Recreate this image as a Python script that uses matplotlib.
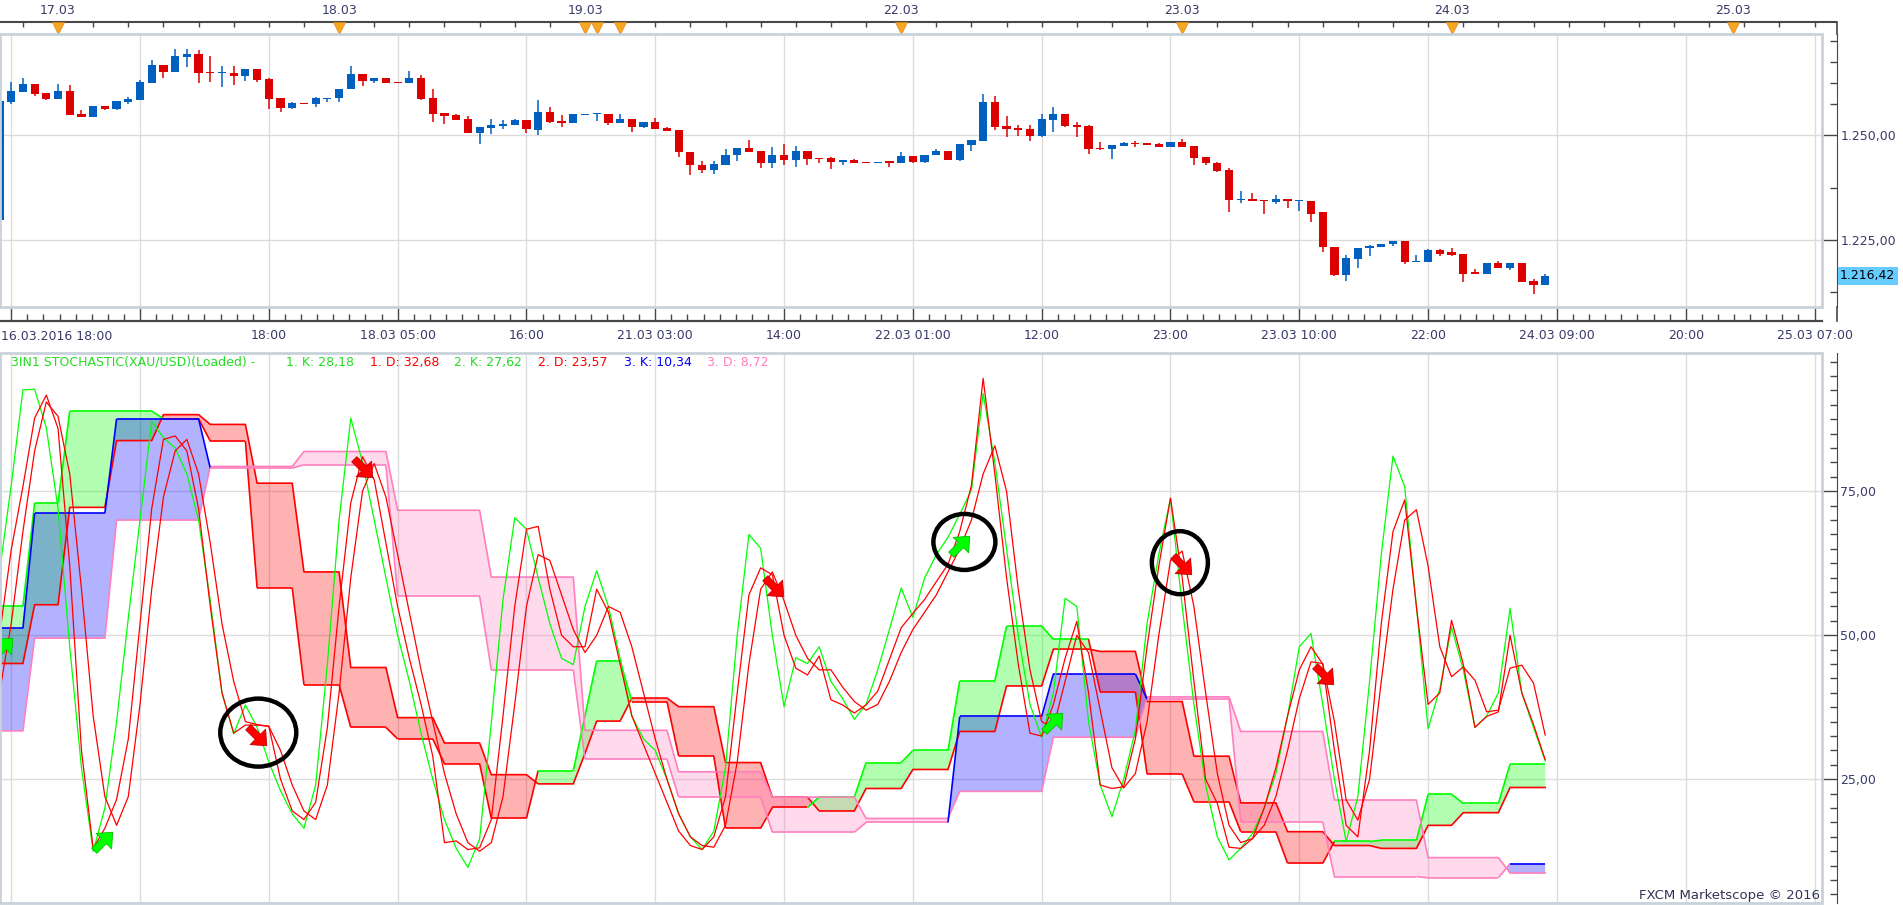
import numpy as np
import matplotlib
matplotlib.use("Agg")
import matplotlib.pyplot as plt
from matplotlib.collections import LineCollection
from matplotlib.patches import Ellipse, Rectangle
from matplotlib.lines import Line2D
from matplotlib.path import Path
from matplotlib.ticker import FixedLocator, FuncFormatter

# ---------------- data: hourly XAU/USD candles (bar index 0..132) ----------------
opens = [
    1229.8, 1258.0, 1260.4, 1262.2, 1260.0, 1258.7, 1260.6, 1255.0, 1254.4, 1257.0,
    1256.3, 1258.0, 1258.4, 1262.5, 1266.7, 1265.2, 1268.7, 1269.4, 1265.1, 1264.8,
    1264.9, 1264.2, 1265.8, 1263.4, 1258.9, 1256.6, 1257.7, 1257.5, 1258.7, 1259.0,
    1261.0, 1264.6, 1263.0, 1263.8, 1262.8, 1262.5, 1263.8, 1258.9, 1255.3, 1254.8,
    1253.9, 1250.6, 1251.8, 1252.3, 1252.5, 1253.7, 1251.3, 1255.6, 1253.4, 1253.0,
    1254.9, 1255.0, 1255.2, 1253.0, 1253.9, 1252.1, 1253.2, 1251.7, 1251.3, 1246.1,
    1242.9, 1241.7, 1243.0, 1245.2, 1247.0, 1246.3, 1243.5, 1245.3, 1244.1, 1246.3,
    1244.7, 1244.7, 1243.7, 1244.1, 1243.6, 1243.3, 1243.6, 1243.3, 1245.1, 1243.7,
    1245.2, 1246.3, 1244.1, 1247.7, 1248.7, 1257.9, 1252.2, 1251.8, 1251.5, 1249.8,
    1253.7, 1255.1, 1252.5, 1252.2, 1247.0, 1246.7, 1247.5, 1248.1, 1248.1, 1247.9,
    1247.2, 1248.3, 1247.5, 1244.8, 1243.4, 1241.7, 1234.6, 1234.8, 1234.6, 1234.0,
    1234.8, 1234.2, 1234.4, 1231.6, 1223.4, 1216.7, 1220.4, 1223.0, 1223.3, 1224.0,
    1224.8, 1219.7, 1219.7, 1222.5, 1222.1, 1221.7, 1217.3, 1217.0, 1219.4, 1218.4,
    1219.4, 1215.1, 1214.2]
highs = [
    1258.2, 1262.8, 1263.7, 1262.2, 1260.0, 1262.2, 1262.0, 1256.0, 1257.0, 1257.0,
    1258.2, 1259.2, 1263.2, 1267.9, 1266.7, 1270.5, 1270.5, 1270.3, 1268.9, 1266.5,
    1266.5, 1265.8, 1265.8, 1263.7, 1258.9, 1258.0, 1257.7, 1259.2, 1259.0, 1261.0,
    1266.5, 1264.6, 1263.8, 1263.8, 1262.8, 1265.3, 1264.4, 1261.0, 1255.3, 1255.0,
    1254.6, 1252.0, 1254.0, 1253.7, 1254.0, 1253.7, 1258.4, 1256.8, 1254.8, 1255.1,
    1255.2, 1255.1, 1255.2, 1255.1, 1253.9, 1253.2, 1254.1, 1252.1, 1251.3, 1246.1,
    1243.9, 1243.8, 1246.7, 1247.0, 1248.9, 1246.3, 1247.1, 1247.9, 1247.5, 1246.3,
    1244.7, 1244.9, 1244.1, 1244.3, 1243.6, 1243.7, 1243.6, 1246.1, 1245.1, 1245.3,
    1246.8, 1246.3, 1247.9, 1248.9, 1259.8, 1259.4, 1254.6, 1252.5, 1252.5, 1255.2,
    1256.7, 1255.1, 1253.3, 1252.4, 1248.4, 1247.6, 1248.4, 1248.6, 1248.1, 1248.1,
    1248.3, 1249.1, 1247.5, 1244.8, 1243.7, 1242.1, 1236.6, 1236.3, 1234.6, 1235.8,
    1234.8, 1234.4, 1234.4, 1231.6, 1223.4, 1221.3, 1223.1, 1223.9, 1224.0, 1224.8,
    1224.8, 1221.4, 1222.9, 1222.9, 1223.1, 1221.7, 1218.1, 1219.4, 1220.1, 1219.4,
    1219.6, 1215.8, 1217.0]
lows = [
    1229.8, 1257.6, 1260.4, 1259.4, 1258.4, 1258.7, 1254.8, 1254.4, 1254.4, 1256.0,
    1256.0, 1257.6, 1258.4, 1262.5, 1263.7, 1265.2, 1266.3, 1262.4, 1262.8, 1261.6,
    1262.0, 1263.0, 1262.8, 1256.3, 1255.6, 1256.3, 1257.5, 1256.7, 1257.9, 1258.0,
    1261.0, 1261.8, 1262.4, 1262.4, 1262.5, 1262.5, 1258.4, 1253.3, 1252.7, 1253.7,
    1250.5, 1247.9, 1250.2, 1251.4, 1252.5, 1250.6, 1250.1, 1253.0, 1252.1, 1253.0,
    1254.9, 1253.5, 1252.5, 1253.0, 1250.9, 1251.8, 1251.5, 1251.1, 1244.9, 1240.6,
    1241.0, 1240.8, 1243.0, 1243.9, 1246.0, 1242.1, 1242.1, 1243.0, 1242.5, 1243.0,
    1243.3, 1242.0, 1243.0, 1243.5, 1243.3, 1243.3, 1242.5, 1243.3, 1243.3, 1243.3,
    1245.2, 1244.1, 1243.9, 1246.3, 1248.7, 1251.3, 1249.5, 1249.9, 1248.7, 1249.7,
    1250.9, 1252.1, 1249.7, 1245.6, 1246.5, 1244.4, 1247.5, 1247.1, 1247.7, 1247.2,
    1247.2, 1247.1, 1242.8, 1243.0, 1241.3, 1231.7, 1233.9, 1234.4, 1231.3, 1233.7,
    1232.7, 1232.0, 1229.4, 1222.1, 1216.3, 1215.3, 1218.2, 1221.1, 1223.3, 1223.5,
    1219.3, 1219.7, 1219.7, 1221.1, 1221.1, 1214.9, 1217.0, 1217.0, 1218.4, 1217.8,
    1214.9, 1212.2, 1214.2]
closes = [
    1258.2, 1260.6, 1262.2, 1259.8, 1258.7, 1260.6, 1254.8, 1254.4, 1257.0, 1256.3,
    1258.2, 1258.7, 1262.7, 1266.7, 1265.2, 1268.9, 1269.4, 1264.9, 1264.8, 1264.9,
    1264.2, 1265.8, 1263.2, 1258.7, 1256.6, 1257.7, 1257.5, 1258.9, 1259.0, 1261.0,
    1264.6, 1263.0, 1263.8, 1262.5, 1262.5, 1263.8, 1258.7, 1255.2, 1254.7, 1253.7,
    1250.6, 1252.0, 1252.5, 1252.7, 1253.7, 1251.4, 1255.6, 1253.2, 1253.0, 1255.1,
    1255.2, 1255.1, 1252.9, 1253.9, 1252.1, 1253.2, 1251.5, 1251.1, 1245.9, 1242.8,
    1241.7, 1243.2, 1245.3, 1247.0, 1246.0, 1243.5, 1245.3, 1244.1, 1246.3, 1244.4,
    1244.4, 1243.7, 1244.1, 1243.5, 1243.3, 1243.7, 1243.5, 1245.1, 1243.6, 1245.3,
    1246.3, 1244.1, 1247.9, 1248.9, 1257.9, 1252.1, 1251.6, 1251.3, 1249.8, 1253.9,
    1255.1, 1252.2, 1252.1, 1246.8, 1246.7, 1247.6, 1248.1, 1247.9, 1247.7, 1247.2,
    1248.3, 1247.1, 1244.7, 1243.3, 1241.5, 1234.6, 1234.8, 1234.4, 1234.2, 1234.8,
    1234.2, 1234.4, 1231.3, 1223.3, 1216.7, 1220.6, 1223.1, 1223.5, 1224.0, 1224.8,
    1219.7, 1219.8, 1222.5, 1221.7, 1221.5, 1217.0, 1217.0, 1219.4, 1218.4, 1219.4,
    1214.9, 1214.2, 1216.42]

# time axis
time_ticks = [1, 12, 23, 34, 45, 56, 67, 78, 89, 100, 111, 122, 133, 144, 155]
time_labels = ["16.03.2016 18:00", "", "18:00", "18.03 05:00", "16:00", "21.03 03:00",
               "14:00", "22.03 01:00", "12:00", "23:00", "23.03 10:00", "22:00",
               "24.03 09:00", "20:00", "25.03 07:00"]
day_bars = [5, 29, 50, 77, 101, 124, 148]
day_labels = ["17.03", "18.03", "19.03", "22.03", "23.03", "24.03", "25.03"]
day_marks = [5, 29, 50, 51, 53, 77, 101, 124, 148]
price_minor = [1212.5, 1237.5, 1257.5, 1262.5, 1267.5, 1272.5]

# 1. stochastic (hourly) lines
k1 = [61, 76, 92.6, 92.7, 86, 72, 48, 27, 12.5, 20,
      35, 53, 70, 87.1, 84.3, 82.5, 78, 70, 56, 40,
      32.9, 37.9, 34, 28, 23, 19, 16.5, 24, 45, 70,
      87.7, 80, 70, 60, 50, 42, 33, 25, 18, 13,
      9.7, 14.6, 34.8, 56.2, 70.4, 68.4, 60, 52, 46, 44.9,
      55, 61.2, 55, 46, 36, 32, 30, 25, 19, 15,
      12.8, 16, 27, 50, 67.5, 65.1, 50, 37.6, 46.1, 45.1,
      48.0, 42, 39, 35.4, 38, 44, 51, 58.2, 53.1, 59.9,
      64, 67, 71, 75.2, 92, 80, 65, 50, 38, 32.3,
      40, 56.4, 55, 35, 24, 18.5, 25, 33.5, 52, 64,
      73.8, 55, 38, 24, 15, 11, 13, 15.6, 20, 26,
      36, 48, 50.3, 38, 25, 14.2, 22, 42, 64, 81.1,
      75.8, 55, 33.8, 40.7, 51.4, 44, 34, 36, 40, 54.7,
      40, 34, 28.18]
r1 = [50, 64.8, 75.8, 87.7, 91.7, 85.9, 62, 30, 13, 16.5,
      21.5, 32, 52, 72, 84, 84.6, 82, 72, 55, 40,
      33, 34.4, 34.4, 34.2, 25, 19.5, 18, 21, 34, 55,
      73, 81, 77, 66, 55, 46, 38, 29, 14, 14.3,
      12.8, 13.1, 18, 36, 55, 68.4, 68.9, 58, 50, 48,
      48, 58, 54, 45, 36, 31, 26, 21, 16, 13.5,
      12.8, 15, 22, 40, 57, 61.7, 60.5, 50, 44.3, 43.1,
      46.4, 38.8, 37.9, 36.5, 37.9, 40.3, 45.8, 51.3, 53.8, 56.2,
      59.3, 62.3, 68, 76, 94.6, 78, 60, 45, 33, 32.5,
      38, 46, 52.4, 40, 24, 23.4, 23.7, 32, 48, 62,
      73.8, 60, 42, 25, 20.8, 13.2, 13, 14.7, 20, 27,
      36, 44, 48, 45, 30, 17, 15, 30, 52, 68,
      73.5, 55, 38, 40, 52.6, 45, 34, 35.9, 36.7, 50,
      40, 34.5, 28.4]
d1 = [40, 52, 68, 82, 90.5, 88, 78, 58, 36, 22,
      17, 22, 38, 58, 74, 82, 84, 78, 66, 52,
      42, 35, 34.5, 34.2, 30, 24, 19.5, 18, 24, 40,
      60, 75, 79.8, 74, 64, 54, 44, 35, 26, 19,
      14, 12.5, 14, 22, 38, 55, 64, 63, 57, 51,
      47, 50, 55, 54, 48, 40, 32, 25, 19, 15,
      13.5, 13.2, 17, 28, 45, 58, 61, 56, 50, 46,
      44, 44, 41, 38.5, 37, 38, 42, 47, 51, 54,
      57, 61, 65, 70, 78, 82.9, 75, 58, 44, 35,
      34, 42, 50, 47, 37, 27, 23.5, 26, 35, 50,
      63, 64.6, 55, 40, 26, 17, 14, 14.7, 17, 22,
      30, 39, 45.4, 45.1, 35, 21.4, 17.9, 25, 42, 58,
      70, 71.8, 62, 48, 42.8, 44.5, 42.2, 36.7, 37.0, 44.3,
      44.8, 41.7, 32.68]

# 2. stochastic (4-hour steps): first bar of each step, K, D
b2_start = [0, 3, 6, 10, 14, 18, 22, 26, 30, 34, 38, 42, 46, 50, 51, 54, 58, 62, 66, 70,
            74, 78, 82, 86, 90, 94, 98, 102, 106, 110, 114, 118, 122, 125, 129]
b2_k = [55.0, 73.0, 88.9, 88.9, 87.6, 83.7, 58.2, 41.4, 34.0, 32.0, 27.7, 18.2, 26.5, 36.0,
        45.6, 38.5, 29.0, 16.5, 20.1, 21.9, 27.9, 30.0, 42.1, 51.6, 49.3, 40.2, 25.9, 21.1,
        15.9, 10.4, 14.2, 14.4, 22.4, 20.8, 27.62]
b2_d = [45.1, 55.3, 72.2, 83.8, 88.3, 86.6, 76.4, 61.0, 44.4, 35.7, 31.3, 25.8, 24.2, 29.5,
        35.1, 39.1, 37.6, 27.9, 21.9, 19.5, 23.4, 26.7, 33.3, 41.2, 47.6, 47.2, 38.5, 29.0,
        20.9, 15.9, 13.5, 13.0, 17.0, 19.2, 23.57]

# 3. stochastic (8-hour steps)
b3_start = [0, 3, 10, 18, 26, 34, 42, 50, 58, 66, 74, 82, 90, 98, 106, 114, 122, 129]
b3_k = [51.2, 71.2, 87.6, 79.0, 79.6, 56.8, 44.0, 28.5, 21.9, 15.8, 17.5, 35.9, 43.3, 38.9,
        17.6, 8.1, 7.9, 10.34]
b3_d = [33.4, 49.5, 70.0, 79.3, 81.9, 71.7, 60.1, 33.5, 26.3, 21.9, 18.2, 22.9, 32.3, 39.3,
        33.3, 21.4, 11.4, 8.72]

# signal arrows and hand-drawn circles
arrow_bars = [0.3, 8.8, 22.0, 31.0, 66.1, 82.0, 90.0, 101.0, 113.1]
arrow_vals = [48.0, 14.3, 32.5, 79.1, 58.4, 65.7, 35.0, 62.2, 43.1]
arrow_up = [True, True, False, False, False, True, True, False, False]
circle_bars = [22.1, 82.4, 100.8]
circle_vals = [33.1, 66.2, 62.6]

# ---------------- layout ----------------
plt.rcParams['font.family'] = ['DejaVu Sans']
W, H = 1903, 905
PX = 11.71          # pixels per bar
VPX = 5.76          # pixels per stochastic unit
TXT = '#3a3a6a'
AXC = '#474747'
GRID = '#dcdcdc'
FRAME = '#c9d1da'
GREEN, RED, BLUE, PINK = '#00ff00', '#ff0000', '#0000ff', '#ff7fbf'


def box(x0, y0, x1, y1):
    return [x0 / W, 1 - y1 / H, (x1 - x0) / W, (y1 - y0) / H]


def to_bar(px):
    return (px + 0.51) / PX


def pt(px):
    return px * 0.72


def price_fmt(v, pos=None):
    return f"{v:,.2f}".replace(",", " ").replace(".", ",").replace(" ", ".")


def stoch_fmt(v, pos=None):
    return f"{v:.2f}".replace(".", ",")


def steps(starts, vals, n):
    return np.repeat(np.array(vals, float), np.diff(starts + [n]))


def two_tone(ax, x, a, b, c_hi, c_lo, lw, z):
    pts = np.column_stack([x, a])
    segs = np.stack([pts[:-1], pts[1:]], axis=1)
    hi = (a[:-1] + a[1:]) >= (b[:-1] + b[1:])
    cols = [c_hi if h else c_lo for h in hi]
    ax.add_collection(LineCollection(segs, colors=cols, linewidths=lw, zorder=z))


def arrow_marker(angle_deg):
    # thick block arrow pointing east, rotated
    v = np.array([(-0.5, -0.14), (0.02, -0.14), (0.02, -0.42), (0.5, 0.0),
                  (0.02, 0.42), (0.02, 0.14), (-0.5, 0.14), (-0.5, -0.14)])
    a = np.deg2rad(angle_deg)
    rot = np.array([[np.cos(a), -np.sin(a)], [np.sin(a), np.cos(a)]])
    return Path(v @ rot.T, closed=True)


fig = plt.figure(figsize=(W / 100, H / 100), dpi=100)
fig.patch.set_facecolor('white')
ax0 = fig.add_axes(box(0, 0, 1837, 34))
ax1 = fig.add_axes(box(0, 34, 1822, 307))
ax2 = fig.add_axes(box(0, 353, 1822, 903))

n = len(closes)
x = np.arange(n)
o, h, l, c = (np.array(v) for v in (opens, highs, lows, closes))

# ---------------- top date strip ----------------
ax0.set_xlim(to_bar(0), to_bar(1837))
ax0.set_ylim(0, 1)
ax0.axis('off')
y_line = 12 / 34
ax0.axhline(y_line, color=AXC, lw=1.5)
ax0.vlines(np.arange(2, 157, 3), 7 / 34, y_line, color=AXC, lw=1)
ax0.plot(day_marks, [6 / 34] * len(day_marks), 'v', color='#f5a623', ms=8, mec='#e08a10', mew=0.5)
for b, lab in zip(day_bars, day_labels):
    ax0.text(b, 23.5 / 34, lab, ha='center', va='center', fontsize=9, color=TXT)
ax0.axvline(to_bar(1837), ymax=y_line, color=AXC, lw=1.2, clip_on=False)

# ---------------- price panel ----------------
ax1.set_xlim(to_bar(0), to_bar(1822))
ax1.set_ylim(1209.0, 1274.2)
up = c >= o
cols = np.where(up, '#0060c0', '#dd0000')
ax1.vlines(x, l, h, colors=cols, lw=1.1, zorder=3)
ax1.bar(x, np.maximum(np.abs(c - o), 0.3), bottom=np.minimum(o, c), width=0.7,
        color=cols, linewidth=0, zorder=4)

for s in ('top', 'left'):
    ax1.spines[s].set_visible(False)
ax1.spines['right'].set_position(('outward', pt(15)))
ax1.spines['right'].set_color(AXC)
ax1.spines['bottom'].set_position(('outward', pt(14)))
ax1.spines['bottom'].set_color(AXC)
ax1.spines['bottom'].set_linewidth(1.6)
ax1.add_patch(Rectangle((0, 0), 1, 1, transform=ax1.transAxes, fill=False, ec=FRAME,
                        lw=2, clip_on=False, zorder=6))
ax1.yaxis.tick_right()
ax1.yaxis.set_major_locator(FixedLocator([1225, 1250]))
ax1.yaxis.set_major_formatter(FuncFormatter(price_fmt))
ax1.yaxis.set_minor_locator(FixedLocator(price_minor))
ax1.tick_params(axis='y', which='major', direction='in', length=pt(15), width=1, color=AXC,
                pad=2.5, labelsize=9, labelcolor=TXT)
ax1.tick_params(axis='y', which='minor', direction='in', length=pt(7), width=1, color=AXC)
ax1.set_xticks(time_ticks)
ax1.set_xticklabels(time_labels)
ax1.xaxis.set_minor_locator(FixedLocator(np.arange(1, 156, 11 / 8)))
ax1.tick_params(axis='x', which='major', direction='in', length=pt(13), width=1, color=AXC,
                pad=5.5, labelsize=9, labelcolor=TXT)
ax1.tick_params(axis='x', which='minor', direction='in', length=pt(7), width=1, color=AXC)
ax1.grid(True, which='major', color=GRID, lw=1)
ax1.set_axisbelow(True)
fig.text(1 / W, 1 - 337 / H, time_labels[0], ha='left', va='center', fontsize=9, color=TXT)
ax1.get_xticklabels()[0].set_visible(False)
fig.add_artist(Line2D([1837 / W, 1837 / W], [1 - 307 / H, 1 - 321 / H], color=AXC, lw=1.2))

# last price tag
ax1.text(1840 / 1822, c[-1], price_fmt(c[-1]), transform=ax1.get_yaxis_transform(),
         ha='left', va='center', fontsize=9, color='black', clip_on=False,
         bbox=dict(boxstyle='square,pad=0.2', fc='#66ccff', ec='none'))

# ---------------- stochastic panel ----------------
ax2.set_xlim(to_bar(0), to_bar(1822))
ax2.set_ylim(3.52, 99.0)

K2 = steps(b2_start, b2_k, n)
D2 = steps(b2_start, b2_d, n)
K3 = steps(b3_start, b3_k, n)
D3 = steps(b3_start, b3_d, n)

ax2.fill_between(x, K2, D2, where=K2 >= D2, interpolate=True, color=GREEN, alpha=0.3, lw=0, zorder=2)
ax2.fill_between(x, K2, D2, where=K2 < D2, interpolate=True, color=RED, alpha=0.3, lw=0, zorder=2)
ax2.fill_between(x, K3, D3, where=K3 >= D3, interpolate=True, color=BLUE, alpha=0.3, lw=0, zorder=2.1)
ax2.fill_between(x, K3, D3, where=K3 < D3, interpolate=True, color='#ff69b4', alpha=0.25, lw=0, zorder=2.1)

ax2.plot(x, D2, color=RED, lw=1.2, zorder=3)
two_tone(ax2, x, K2, D2, GREEN, RED, 1.2, 3)
ax2.plot(x, D3, color=PINK, lw=1.2, zorder=3)
two_tone(ax2, x, K3, D3, BLUE, PINK, 1.2, 3)

ax2.plot(x, k1, color=GREEN, lw=0.9, zorder=4)
ax2.plot(x, r1, color=RED, lw=0.9, zorder=4)
ax2.plot(x, d1, color=RED, lw=0.9, zorder=4)

up_mk, dn_mk = arrow_marker(45), arrow_marker(-45)
for b, v, u in zip(arrow_bars, arrow_vals, arrow_up):
    ax2.plot([b], [v], marker=up_mk if u else dn_mk, ms=17, color=GREEN if u else RED,
             mec='#00c000' if u else '#c00000', mew=0.6, zorder=6)

circle_px = [(38, 34), (31, 28), (28, 31.5)]
for b, v, (rx, ry) in zip(circle_bars, circle_vals, circle_px):
    ax2.add_patch(Ellipse((b, v), 2 * rx / PX, 2 * ry / VPX, fill=False, ec='black',
                          lw=3.2, zorder=7))

for s in ('top', 'left', 'bottom'):
    ax2.spines[s].set_visible(False)
ax2.spines['right'].set_position(('outward', pt(15)))
ax2.spines['right'].set_color(AXC)
ax2.add_patch(Rectangle((0, 0), 1, 1, transform=ax2.transAxes, fill=False, ec=FRAME,
                        lw=2, clip_on=False, zorder=8))
ax2.yaxis.tick_right()
ax2.yaxis.set_major_locator(FixedLocator([25, 50, 75]))
ax2.yaxis.set_major_formatter(FuncFormatter(stoch_fmt))
ax2.yaxis.set_minor_locator(FixedLocator(np.arange(5, 99, 2.5)))
ax2.tick_params(axis='y', which='major', direction='in', length=pt(15), width=1, color=AXC,
                pad=2.5, labelsize=9, labelcolor=TXT)
ax2.tick_params(axis='y', which='minor', direction='in', length=pt(7), width=1, color=AXC)
ax2.set_xticks(time_ticks)
ax2.tick_params(axis='x', which='both', length=0, labelbottom=False)
ax2.grid(True, which='major', color=GRID, lw=1)
ax2.set_axisbelow(True)

# indicator legend
legend_parts = [
    ("3IN1 STOCHASTIC(XAU/USD)(Loaded) -", '#22dd22', 11),
    ("1. K: " + stoch_fmt(k1[-1]), '#22dd22', 286),
    ("1. D: " + stoch_fmt(d1[-1]), RED, 370),
    ("2. K: " + stoch_fmt(b2_k[-1]), '#22dd22', 454),
    ("2. D: " + stoch_fmt(b2_d[-1]), RED, 538),
    ("3. K: " + stoch_fmt(b3_k[-1]), BLUE, 624),
    ("3. D: " + stoch_fmt(b3_d[-1]), PINK, 707),
]
for txt, col, xp in legend_parts:
    fig.text(xp / W, 1 - 362 / H, txt, ha='left', va='center', fontsize=9, color=col)

fig.text(1820 / W, 1 - 895 / H, "FXCM Marketscope \u00a9 2016", ha='right', va='center',
         fontsize=9.5, color='#333355')

fig.savefig("out.png", dpi=100)
